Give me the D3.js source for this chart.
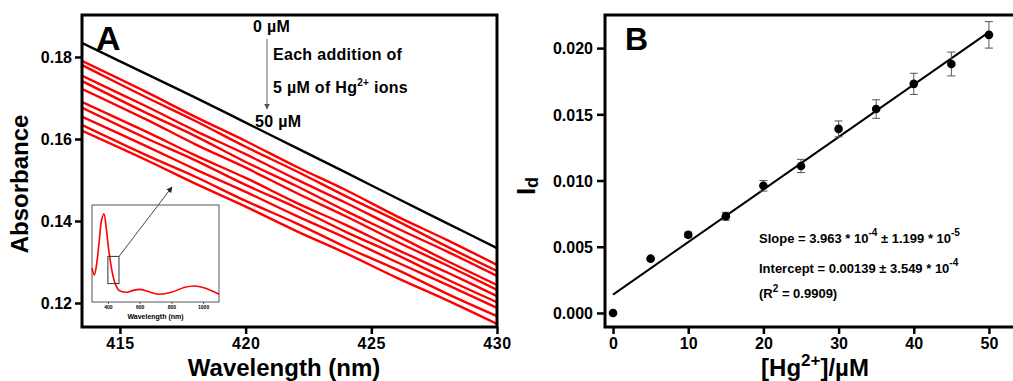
<!DOCTYPE html>
<html>
<head>
<meta charset="utf-8">
<script src="https://cdn.jsdelivr.net/npm/d3@7"></script>
<style>
  body { margin: 0; background: #fff; }
  svg { display: block; font-family: "Liberation Sans", Arial, sans-serif; font-weight: bold; }
</style>
</head>
<body>
<svg id="chart" width="1013" height="381"></svg>
<script>
// panel A - absorbance spectra, zoomed 413.5 - 430 nm
var wlA = [413.5, 416, 418, 420, 422, 424, 426, 428, 430];
var abs0 = [0.1834, 0.1760, 0.1701, 0.1640, 0.1579, 0.1518, 0.1456, 0.1395, 0.1334];
var absHg = [
  [0.1790, 0.1716, 0.1654, 0.1595, 0.1533, 0.1475, 0.1412, 0.1354, 0.1293],
  [0.1780, 0.1703, 0.1644, 0.1581, 0.1522, 0.1460, 0.1401, 0.1338, 0.1278],
  [0.1754, 0.1681, 0.1620, 0.1563, 0.1502, 0.1444, 0.1383, 0.1326, 0.1266],
  [0.1741, 0.1665, 0.1607, 0.1544, 0.1486, 0.1424, 0.1365, 0.1303, 0.1244],
  [0.1722, 0.1649, 0.1587, 0.1530, 0.1469, 0.1411, 0.1350, 0.1292, 0.1232],
  [0.1690, 0.1619, 0.1560, 0.1505, 0.1445, 0.1390, 0.1331, 0.1275, 0.1217],
  [0.1676, 0.1603, 0.1548, 0.1488, 0.1433, 0.1373, 0.1318, 0.1258, 0.1202],
  [0.1654, 0.1584, 0.1526, 0.1471, 0.1413, 0.1358, 0.1300, 0.1245, 0.1188],
  [0.1634, 0.1562, 0.1508, 0.1449, 0.1395, 0.1336, 0.1282, 0.1223, 0.1168],
  [0.1620, 0.1550, 0.1491, 0.1435, 0.1376, 0.1321, 0.1262, 0.1207, 0.1149]
];
var xTicksA = [415, 420, 425, 430];
var yTicksA = [0.12, 0.14, 0.16, 0.18];

// inset - full spectrum (relative absorbance)
var insetWl = [300, 315, 330, 345, 360, 375, 390, 410, 440, 470, 520, 560, 600, 650, 720, 800, 880, 950, 1020, 1100];
var insetAbs = [0.35, 0.28, 0.40, 0.62, 0.84, 0.91, 0.76, 0.48, 0.22, 0.12, 0.10, 0.12, 0.13, 0.11, 0.08, 0.10, 0.15, 0.165, 0.14, 0.08];
var insetTicks = [400, 600, 800, 1000];
var insetBox = [400, 470, 0.19, 0.47];

// panel B - calibration
var concB = [0, 5, 10, 15, 20, 25, 30, 35, 40, 45, 50];
var idB = [0.0000, 0.0041, 0.0059, 0.0073, 0.0096, 0.0111, 0.0139, 0.0154, 0.0173, 0.0188, 0.0210];
var errB = [0, 0.0001, 0.0002, 0.0003, 0.0004, 0.0005, 0.0006, 0.0007, 0.0008, 0.0009, 0.0010];
var fitSlope = 3.963e-4;
var fitIntercept = 0.00139;
var xTicksB = [0, 10, 20, 30, 40, 50];
var yTicksB = [0, 0.005, 0.010, 0.015, 0.020];

var svg = d3.select("#chart");
svg.append("rect").attr("width", 1013).attr("height", 381).attr("fill", "#fff");

// ---------- panel A ----------
var A = { l: 82, t: 15, r: 497, b: 327 };
var xA = d3.scaleLinear().domain([413.49, 430]).range([A.l, A.r]);
var yA = d3.scaleLinear().domain([0.11415, 0.19024]).range([A.b, A.t]);

svg.append("clipPath").attr("id", "clipA")
  .append("rect").attr("x", A.l).attr("y", A.t).attr("width", A.r - A.l).attr("height", A.b - A.t);

var lineA = d3.line()
  .x(function(d, i) { return xA(wlA[i]); })
  .y(function(d) { return yA(d); })
  .curve(d3.curveCatmullRom.alpha(0.5));

var gA = svg.append("g").attr("clip-path", "url(#clipA)");
absHg.forEach(function(s) {
  gA.append("path").attr("d", lineA(s)).attr("fill", "none")
    .attr("stroke", "#ff0000").attr("stroke-width", 2.4);
});
gA.append("path").attr("d", lineA(abs0)).attr("fill", "none")
  .attr("stroke", "#000").attr("stroke-width", 2.4);

// axes A
var axXA = svg.append("g").attr("transform", "translate(0," + A.b + ")")
  .call(d3.axisBottom(xA).tickValues(xTicksA).tickSize(7).tickPadding(4));
var axYA = svg.append("g").attr("transform", "translate(" + A.l + ",0)")
  .call(d3.axisLeft(yA).tickValues(yTicksA).tickFormat(d3.format(".2f")).tickSize(7).tickPadding(3));

[axXA, axYA].forEach(function(g) {
  g.select(".domain").remove();
  g.selectAll(".tick line").attr("stroke", "#000").attr("stroke-width", 2.5);
  g.selectAll(".tick text").attr("fill", "#000")
    .style("font-size", "16px").style("font-weight", "bold")
    .style("font-family", "'Liberation Sans', Arial, sans-serif");
});
axXA.selectAll(".tick text").style("letter-spacing", "0.6px");
axYA.selectAll(".tick text").attr("dy", "0.36em");

svg.append("rect").attr("x", A.l).attr("y", A.t).attr("width", A.r - A.l).attr("height", A.b - A.t)
  .attr("fill", "none").attr("stroke", "#000").attr("stroke-width", 3);

svg.append("text").attr("x", 96).attr("y", 50).style("font-size", "34px").text("A");

svg.append("text").attr("x", 284).attr("y", 376).attr("text-anchor", "middle")
  .style("font-size", "24px").text("Wavelength (nm)");
svg.append("text").attr("transform", "translate(28,184) rotate(-90)").attr("text-anchor", "middle")
  .style("font-size", "24px").text("Absorbance");

// defs: arrow heads
var defs = svg.append("defs");
defs.append("marker").attr("id", "arrowGray").attr("viewBox", "0 0 10 10")
  .attr("refX", 9).attr("refY", 5).attr("markerWidth", 6).attr("markerHeight", 6)
  .attr("markerUnits", "userSpaceOnUse").attr("orient", "auto")
  .append("path").attr("d", "M0,0L10,5L0,10Z").attr("fill", "#555");
defs.append("marker").attr("id", "arrowDark").attr("viewBox", "0 0 10 10")
  .attr("refX", 9).attr("refY", 5).attr("markerWidth", 6).attr("markerHeight", 6)
  .attr("markerUnits", "userSpaceOnUse").attr("orient", "auto")
  .append("path").attr("d", "M0,0L10,5L0,10Z").attr("fill", "#222");

// annotations A
var annStyle = function(t) { return t.style("font-size", "16px").style("letter-spacing", "0.3px"); };
annStyle(svg.append("text").attr("x", 253).attr("y", 32)).text("0 \u00b5M");
svg.append("line").attr("x1", 267).attr("y1", 39).attr("x2", 267).attr("y2", 109)
  .attr("stroke", "#666").attr("stroke-width", 1).attr("marker-end", "url(#arrowGray)");
annStyle(svg.append("text").attr("x", 273).attr("y", 60)).text("Each addition of");
var t5 = annStyle(svg.append("text").attr("x", 273).attr("y", 93));
t5.append("tspan").text("5 \u00b5M of Hg");
t5.append("tspan").attr("dy", -7).style("font-size", "10px").text("2+");
t5.append("tspan").attr("dy", 7).text(" ions");
annStyle(svg.append("text").attr("x", 255).attr("y", 127)).text("50 \u00b5M");

// inset
var I = { l: 92, t: 205, r: 219, b: 302 };
var xI = d3.scaleLinear().domain([300, 1100]).range([I.l, I.r]);
var yI = d3.scaleLinear().domain([0, 1]).range([I.b, I.t]);
svg.append("rect").attr("x", I.l).attr("y", I.t).attr("width", I.r - I.l).attr("height", I.b - I.t)
  .attr("fill", "#fff").attr("stroke", "#555").attr("stroke-width", 1);
svg.append("path")
  .attr("d", d3.line().x(function(d, i) { return xI(insetWl[i]); }).y(function(d) { return yI(d); })
    .curve(d3.curveCatmullRom.alpha(0.5))(insetAbs))
  .attr("fill", "none").attr("stroke", "#ff0000").attr("stroke-width", 1.6);
var axI = svg.append("g").attr("transform", "translate(0," + I.b + ")")
  .call(d3.axisBottom(xI).tickValues(insetTicks).tickFormat(d3.format("d")).tickSize(2).tickPadding(1));
axI.select(".domain").remove();
axI.selectAll(".tick line").attr("stroke", "#555");
axI.selectAll(".tick text").attr("fill", "#000").style("font-size", "5px").style("font-weight", "bold");
svg.append("text").attr("x", (I.l + I.r) / 2).attr("y", 319).attr("text-anchor", "middle")
  .style("font-size", "7px").text("Wavelength (nm)");
svg.append("rect").attr("x", xI(insetBox[0])).attr("y", yI(insetBox[3]))
  .attr("width", xI(insetBox[1]) - xI(insetBox[0])).attr("height", yI(insetBox[2]) - yI(insetBox[3]))
  .attr("fill", "none").attr("stroke", "#333").attr("stroke-width", 1);
svg.append("line").attr("x1", xI(insetBox[1])).attr("y1", yI(insetBox[3]))
  .attr("x2", 172).attr("y2", 187)
  .attr("stroke", "#333").attr("stroke-width", 0.9).attr("marker-end", "url(#arrowDark)");

// ---------- panel B ----------
var B = { l: 605, t: 15, r: 1016, b: 327 };
var xB = d3.scaleLinear().domain([-1.07, 53.6]).range([B.l, B.r]);
var yB = d3.scaleLinear().domain([-0.00106, 0.0225]).range([B.b, B.t]);

var axXB = svg.append("g").attr("transform", "translate(0," + B.b + ")")
  .call(d3.axisBottom(xB).tickValues(xTicksB).tickSize(7).tickPadding(4));
var axYB = svg.append("g").attr("transform", "translate(" + B.l + ",0)")
  .call(d3.axisLeft(yB).tickValues(yTicksB).tickFormat(d3.format(".3f")).tickSize(8).tickPadding(4));
[axXB, axYB].forEach(function(g) {
  g.select(".domain").remove();
  g.selectAll(".tick line").attr("stroke", "#000").attr("stroke-width", 2.5);
  g.selectAll(".tick text").attr("fill", "#000")
    .style("font-size", "16px").style("font-weight", "bold")
    .style("font-family", "'Liberation Sans', Arial, sans-serif");
});
axYB.selectAll(".tick text").attr("dy", "0.36em");

svg.append("path")
  .attr("d", "M" + B.r + "," + B.t + "H" + B.l + "V" + B.b + "H" + B.r)
  .attr("fill", "none").attr("stroke", "#000").attr("stroke-width", 3);

// fit line
svg.append("line")
  .attr("x1", xB(0)).attr("y1", yB(fitIntercept))
  .attr("x2", xB(50)).attr("y2", yB(fitIntercept + fitSlope * 50))
  .attr("stroke", "#000").attr("stroke-width", 2);

// error bars
var gE = svg.append("g").attr("stroke", "#555").attr("stroke-width", 1);
concB.forEach(function(c, i) {
  if (errB[i] <= 0) return;
  var x = xB(c), y1 = yB(idB[i] - errB[i]), y2 = yB(idB[i] + errB[i]);
  gE.append("line").attr("x1", x).attr("x2", x).attr("y1", y1).attr("y2", y2);
  gE.append("line").attr("x1", x - 4).attr("x2", x + 4).attr("y1", y1).attr("y2", y1);
  gE.append("line").attr("x1", x - 4).attr("x2", x + 4).attr("y1", y2).attr("y2", y2);
});
svg.selectAll("circle.pt").data(concB).enter().append("circle").attr("class", "pt")
  .attr("cx", function(d) { return xB(d); })
  .attr("cy", function(d, i) { return yB(idB[i]); })
  .attr("r", 4.3).attr("fill", "#000");

svg.append("text").attr("x", 625).attr("y", 50).style("font-size", "32px").text("B");

var tx = svg.append("text").attr("x", 815).attr("y", 376).attr("text-anchor", "middle").style("font-size", "24px");
tx.append("tspan").text("[Hg");
tx.append("tspan").attr("dy", -10).style("font-size", "17px").text("2+");
tx.append("tspan").attr("dy", 10).text("]/\u00b5M");

var ty = svg.append("text").attr("transform", "translate(535,186) rotate(-90)").attr("text-anchor", "middle")
  .style("font-size", "26px");
ty.append("tspan").text("I");
ty.append("tspan").attr("dy", 3).style("font-size", "18px").text("d");

// fit annotations
var s1 = svg.append("text").attr("x", 759).attr("y", 243).style("font-size", "13px");
s1.append("tspan").text("Slope = 3.963 * 10");
s1.append("tspan").attr("dy", -7).style("font-size", "10px").text("-4");
s1.append("tspan").attr("dy", 7).text(" \u00b1 1.199 * 10");
s1.append("tspan").attr("dy", -7).style("font-size", "10px").text("-5");
var s2 = svg.append("text").attr("x", 759).attr("y", 273).style("font-size", "13px");
s2.append("tspan").text("Intercept = 0.00139 \u00b1 3.549 * 10");
s2.append("tspan").attr("dy", -7).style("font-size", "10px").text("-4");
var s3 = svg.append("text").attr("x", 759).attr("y", 298).style("font-size", "13px");
s3.append("tspan").text("(R");
s3.append("tspan").attr("dy", -6).style("font-size", "10px").text("2");
s3.append("tspan").attr("dy", 6).text(" = 0.9909)");
</script>
</body>
</html>
